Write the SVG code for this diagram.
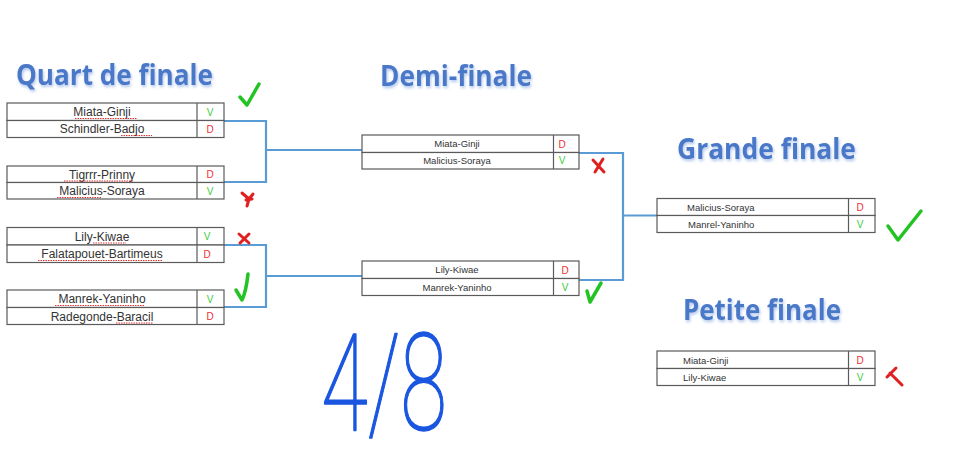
<svg xmlns="http://www.w3.org/2000/svg" width="953" height="471" viewBox="0 0 953 471">
<defs>
<filter id="glow" x="-10%" y="-30%" width="120%" height="160%">
<feGaussianBlur in="SourceAlpha" stdDeviation="1.6" result="b"/>
<feFlood flood-color="#9db8e6" flood-opacity="0.8"/>
<feComposite in2="b" operator="in" result="s"/>
<feOffset dx="1" dy="1.5" result="o"/>
<feMerge><feMergeNode in="o"/><feMergeNode in="SourceGraphic"/></feMerge>
</filter>
</defs>
<style>
.title{font-family:"Open Sans","Liberation Sans",sans-serif;font-weight:700;fill:#4a78c8;filter:url(#glow)}
.box{fill:#fff;stroke:#5a5a5a;stroke-width:1.2}
.q{font-family:"Liberation Sans","Open Sans",sans-serif;font-size:12px;fill:#333;text-anchor:middle}
.s{font-family:"Liberation Sans","Open Sans",sans-serif;font-size:9.5px;fill:#333}
.v{font-family:"Liberation Sans",sans-serif;font-size:10px;fill:#3ccc3c;text-anchor:middle}
.d{font-family:"Liberation Sans",sans-serif;font-size:10px;fill:#f03030;text-anchor:middle}
.wave{fill:none;stroke:#e03030;stroke-width:1;stroke-dasharray:1.5 1}
.link{fill:none;stroke:#5b9bd5;stroke-width:2.2}
.ok{fill:none;stroke:#22c322;stroke-width:3.5;stroke-linecap:round;stroke-linejoin:round}
.ko{fill:none;stroke:#e02020;stroke-width:3;stroke-linecap:round;stroke-linejoin:round}
.hand{font-family:"Roboto","Lato","DejaVu Sans",sans-serif;font-weight:100;fill:#1a56e0;stroke:#1a56e0;stroke-width:1.6;stroke-linejoin:round}
</style>

<text class="title" x="16" y="85" font-size="28" textLength="197" lengthAdjust="spacingAndGlyphs">Quart de finale</text>
<text class="title" x="380" y="86" font-size="28" textLength="152" lengthAdjust="spacingAndGlyphs">Demi-finale</text>
<text class="title" x="677" y="159" font-size="28" textLength="179" lengthAdjust="spacingAndGlyphs">Grande finale</text>
<text class="title" x="683" y="320" font-size="28" textLength="158" lengthAdjust="spacingAndGlyphs">Petite finale</text>

<g id="connectors">
<path class="link" d="M224 121 H266 V182 H224"/>
<path class="link" d="M266 150 H362"/>
<path class="link" d="M224 245 H266 V307 H224"/>
<path class="link" d="M266 276 H362"/>
<path class="link" d="M579 153 H623 V280 H579"/>
<path class="link" d="M623 215.5 H657"/>
</g>

<g id="qf1">
<rect class="box" x="7" y="103" width="217" height="17.5"/>
<rect class="box" x="7" y="120.5" width="217" height="17"/>
<line class="box" x1="197" y1="103" x2="197" y2="137.5"/>
<text class="q" x="102" y="116">Miata-Ginji</text>
<text class="q" x="102" y="133">Schindler-Badjo</text>
<path class="wave" d="M75 118.5 H137"/>
<path class="wave" d="M121 135.5 H152"/>
<text class="v" x="210" y="115.5">V</text>
<text class="d" x="210" y="132.5">D</text>
</g>
<g id="qf2">
<rect class="box" x="7" y="166" width="217" height="16.5"/>
<rect class="box" x="7" y="182.5" width="217" height="16.5"/>
<line class="box" x1="197" y1="166" x2="197" y2="199"/>
<text class="q" x="102" y="178.5">Tigrrr-Prinny</text>
<text class="q" x="102" y="195">Malicius-Soraya</text>
<path class="wave" d="M64 181 H133"/>
<path class="wave" d="M57 197.5 H101"/>
<text class="d" x="210" y="178">D</text>
<text class="v" x="210" y="194.5">V</text>
</g>
<g id="qf3">
<rect class="box" x="7" y="227.5" width="217" height="17.5"/>
<rect class="box" x="7" y="245" width="217" height="17.5"/>
<line class="box" x1="197" y1="227.5" x2="197" y2="262.5"/>
<text class="q" x="102" y="240.5">Lily-Kiwae</text>
<text class="q" x="102" y="258">Falatapouet-Bartimeus</text>
<path class="wave" d="M93 243 H126"/>
<path class="wave" d="M38 260.5 H163"/>
<text class="v" x="207" y="240">V</text>
<text class="d" x="207" y="258">D</text>
</g>
<g id="qf4">
<rect class="box" x="7" y="290" width="217" height="17.5"/>
<rect class="box" x="7" y="307.5" width="217" height="17"/>
<line class="box" x1="197" y1="290" x2="197" y2="324.5"/>
<text class="q" x="102" y="303">Manrek-Yaninho</text>
<text class="q" x="102" y="320.5">Radegonde-Baracil</text>
<path class="wave" d="M55 305.5 H145"/>
<path class="wave" d="M116 323 H153"/>
<text class="v" x="210" y="302.5">V</text>
<text class="d" x="210" y="320">D</text>
</g>

<g id="sf1">
<rect class="box" x="362" y="135" width="217" height="17.5"/>
<rect class="box" x="362" y="152.5" width="217" height="16.5"/>
<line class="box" x1="553.5" y1="135" x2="553.5" y2="169"/>
<text class="s" x="457" y="147" text-anchor="middle">Miata-Ginji</text>
<text class="s" x="457" y="164" text-anchor="middle">Malicius-Soraya</text>
<text class="d" x="562" y="148">D</text>
<text class="v" x="562" y="164">V</text>
</g>
<g id="sf2">
<rect class="box" x="362" y="261" width="217" height="17.5"/>
<rect class="box" x="362" y="278.5" width="217" height="17"/>
<line class="box" x1="553.5" y1="261" x2="553.5" y2="295.5"/>
<text class="s" x="457" y="273" text-anchor="middle">Lily-Kiwae</text>
<text class="s" x="457" y="290.5" text-anchor="middle">Manrek-Yaninho</text>
<text class="d" x="565" y="274">D</text>
<text class="v" x="565" y="291">V</text>
</g>

<g id="gf">
<rect class="box" x="657" y="198.5" width="218" height="17"/>
<rect class="box" x="657" y="215.5" width="218" height="17"/>
<line class="box" x1="848.5" y1="198.5" x2="848.5" y2="232.5"/>
<text class="s" x="687" y="210.5">Malicius-Soraya</text>
<text class="s" x="688" y="228">Manrel-Yaninho</text>
<text class="d" x="860" y="211">D</text>
<text class="v" x="860" y="228">V</text>
</g>

<g id="pf">
<rect class="box" x="657" y="351" width="218" height="17.5"/>
<rect class="box" x="657" y="368.5" width="218" height="17"/>
<line class="box" x1="848.5" y1="351" x2="848.5" y2="385.5"/>
<text class="s" x="683" y="363.5">Miata-Ginji</text>
<text class="s" x="683" y="381">Lily-Kiwae</text>
<text class="d" x="860" y="364">D</text>
<text class="v" x="860" y="381">V</text>
</g>

<g id="marks">
<path class="ok" d="M240 97 L247 105 L259 84"/>
<path class="ko" d="M242 193 L249 199 L253 194 M249 199 L247 206 M246 200 L252 199"/>
<path class="ko" d="M239 234 L249 243 M249 234 L240 243"/>
<path class="ok" d="M248 274 Q246 292 242 300 L236 290"/>
<path class="ko" d="M593 160 L604 172 M603 159 L595 172"/>
<path class="ok" d="M587 291 L590 302 L601 283"/>
<path class="ok" d="M888 226 L898 240 L921 211"/>
<path class="ko" d="M887 377 L896 368 M890 373 L902 385"/>
</g>

<text class="hand" x="321" y="430" font-size="135" textLength="126" lengthAdjust="spacingAndGlyphs">4/8</text>
</svg>
